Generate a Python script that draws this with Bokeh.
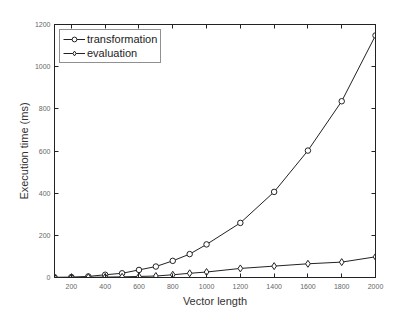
from bokeh.plotting import figure
from bokeh.models import LinearAxis, FixedTicker, Range1d, Legend, LegendItem
from bokeh.embed import file_html
from bokeh.resources import INLINE

vector_length = [100, 200, 300, 400, 500, 600, 700, 800, 900, 1000, 1200, 1400, 1600, 1800, 2000]
transformation = [1, 2, 5, 13, 20, 36, 52, 79, 111, 157, 259, 406, 602, 836, 1148]
evaluation = [0, 0, 1, 2, 3, 5, 7, 13, 20, 26, 43, 54, 65, 73, 98]
x_ticks = [200, 400, 600, 800, 1000, 1200, 1400, 1600, 1800, 2000]
y_ticks = [0, 200, 400, 600, 800, 1000, 1200]

FONT = "Liberation Sans"
INK = "#222222"

p = figure(width=407, height=312, output_backend="svg", toolbar_location=None,
           x_range=Range1d(100, 2000), y_range=Range1d(0, 1200),
           min_border_left=54, min_border_right=32, min_border_top=24, min_border_bottom=35,
           x_axis_label="Vector length", y_axis_label="Execution time (ms)")
p.grid.visible = False
p.outline_line_color = INK
p.outline_line_width = 1
p.background_fill_color = "white"
p.border_fill_color = "white"

for ax, ticks in ((p.xaxis[0], x_ticks), (p.yaxis[0], y_ticks)):
    ax.ticker = FixedTicker(ticks=ticks)
    ax.major_tick_in = 4
    ax.major_tick_out = 0
    ax.minor_tick_line_color = None
    ax.axis_line_color = INK
    ax.major_tick_line_color = INK
    ax.major_label_text_font = FONT
    ax.major_label_text_font_size = "7px"
    ax.major_label_text_color = "#666666"
    ax.axis_label_text_font = FONT
    ax.axis_label_text_font_size = "11px"
    ax.axis_label_text_font_style = "normal"
    ax.axis_label_text_color = "#333333"
p.xaxis[0].major_label_standoff = 6
p.xaxis[0].axis_label_standoff = 3
p.yaxis[0].major_label_standoff = 4
p.yaxis[0].axis_label_standoff = 2

rax = LinearAxis(ticker=FixedTicker(ticks=y_ticks), major_tick_in=4, major_tick_out=0,
                 minor_tick_line_color=None, major_label_text_color=None,
                 axis_line_color=INK, major_tick_line_color=INK)
tax = LinearAxis(ticker=FixedTicker(ticks=x_ticks), major_tick_in=4, major_tick_out=0,
                 minor_tick_line_color=None, major_label_text_color=None,
                 axis_line_color=INK, major_tick_line_color=INK)
p.add_layout(rax, "right")
p.add_layout(tax, "above")

l1 = p.line(vector_length, transformation, line_color=INK, line_width=1)
m1 = p.scatter(vector_length, transformation, marker="circle", size=5.5,
               line_color=INK, fill_color="white", line_width=1)
l2 = p.line(vector_length, evaluation, line_color=INK, line_width=1)
m2 = p.scatter(vector_length, evaluation, marker="diamond", size=7,
               line_color=INK, fill_color="white", line_width=1)

legend = Legend(items=[LegendItem(label="transformation", renderers=[l1, m1]),
                       LegendItem(label="evaluation", renderers=[l2, m2])],
                location="top_left")
legend.label_text_font = FONT
legend.label_text_font_size = "11px"
legend.label_text_color = INK
legend.border_line_color = INK
legend.border_line_width = 1
legend.background_fill_alpha = 1
legend.glyph_width = 22
legend.glyph_height = 12
legend.label_standoff = 2
legend.spacing = 2
legend.padding = 3
legend.margin = 5
legend.label_height = 12
p.add_layout(legend)

open("out.html", "w").write(file_html(p, INLINE))
